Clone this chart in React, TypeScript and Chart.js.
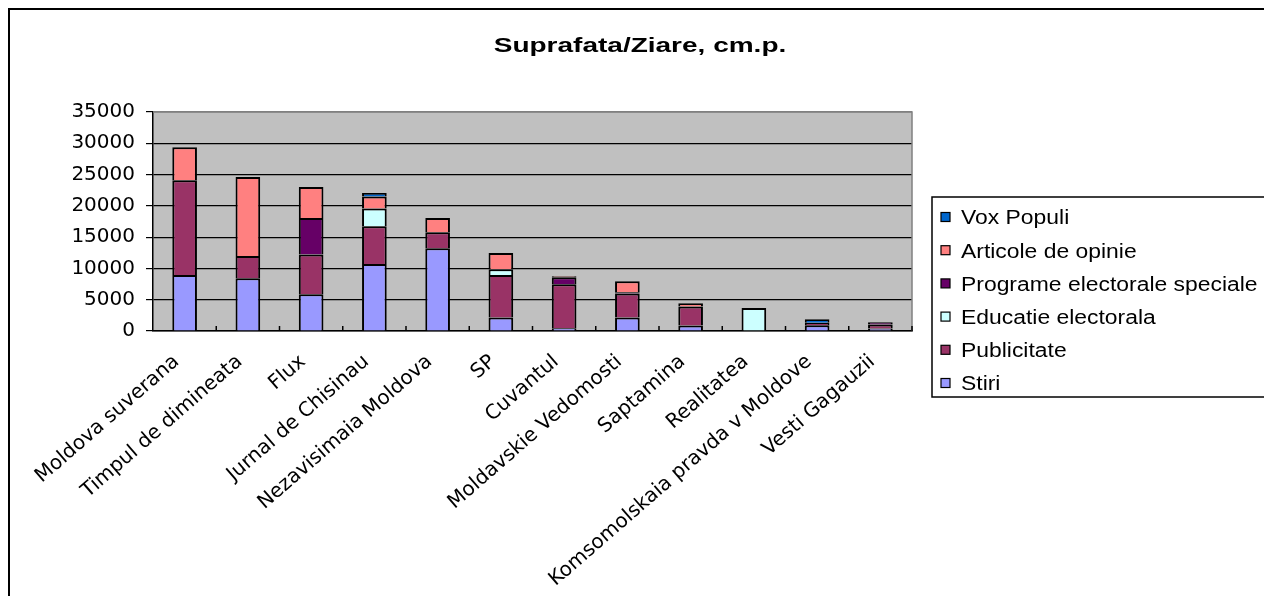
import React, { useEffect, useRef } from 'react';
import { Chart, registerables } from 'chart.js';

Chart.register(...registerables);

const chartTitle = 'Suprafata/Ziare, cm.p.';

const categories = [
  'Moldova suverana',
  'Timpul de dimineata',
  'Flux',
  'Jurnal de Chisinau',
  'Nezavisimaia Moldova',
  'SP',
  'Cuvantul',
  'Moldavskie Vedomosti',
  'Saptamina',
  'Realitatea',
  'Komsomolskaia pravda v Moldove',
  'Vesti Gagauzii',
];

const stiri = [8950, 8420, 5870, 10710, 13220, 2140, 430, 2140, 860, 0, 900, 380];
const publicitate = [15130, 3570, 6340, 6020, 2550, 6810, 7030, 3840, 3040, 0, 400, 640];
const educatieElectorala = [0, 0, 0, 2830, 0, 910, 0, 0, 0, 3680, 0, 0];
const programeElectoraleSpeciale = [0, 0, 5850, 0, 0, 0, 1150, 200, 0, 0, 0, 370];
const articoleDeOpinie = [5280, 12620, 4950, 1920, 2290, 2600, 130, 1760, 530, 0, 0, 0];
const voxPopuli = [0, 0, 0, 570, 0, 0, 0, 0, 0, 0, 590, 0];

const yTicks = [0, 5000, 10000, 15000, 20000, 25000, 30000, 35000];

const seriesNames = [
  'Stiri',
  'Publicitate',
  'Educatie electorala',
  'Programe electorale speciale',
  'Articole de opinie',
  'Vox Populi',
];
const seriesData = [stiri, publicitate, educatieElectorala, programeElectoraleSpeciale, articoleDeOpinie, voxPopuli];
const seriesColors = ['#9999FF', '#993366', '#CCFFFF', '#660066', '#FF8080', '#0066CC'];

export default function App() {
  const ref = useRef<HTMLCanvasElement>(null);

  useEffect(() => {
    const canvas = ref.current;
    if (!canvas) return;

    const bgPlugin = {
      id: 'bgPlugin',
      beforeDraw(chart: any) {
        const c = chart.ctx;
        const a = chart.chartArea;
        c.save();
        c.fillStyle = '#ffffff';
        c.fillRect(0, 0, chart.width, chart.height);
        c.strokeStyle = '#000000';
        c.lineWidth = 2;
        c.beginPath();
        c.moveTo(9, chart.height + 5);
        c.lineTo(9, 9);
        c.lineTo(chart.width + 5, 9);
        c.stroke();
        c.fillStyle = '#C0C0C0';
        c.fillRect(a.left, a.top, a.right - a.left, a.bottom - a.top);
        c.restore();
      },
      afterDraw(chart: any) {
        const c = chart.ctx;
        const a = chart.chartArea;
        c.save();
        // plot area border (top & right)
        c.strokeStyle = '#808080';
        c.lineWidth = 1.5;
        c.beginPath();
        c.moveTo(a.left, a.top);
        c.lineTo(a.right, a.top);
        c.lineTo(a.right, a.bottom);
        c.stroke();
        // inner tick marks on category axis
        c.strokeStyle = '#000000';
        c.lineWidth = 1.5;
        const n = categories.length;
        const w = (a.right - a.left) / n;
        c.beginPath();
        for (let i = 1; i <= n; i++) {
          const x = a.left + i * w;
          c.moveTo(x, a.bottom);
          c.lineTo(x, a.bottom - 5);
        }
        c.stroke();

        // title
        c.fillStyle = '#000000';
        c.font = 'bold 20px "Liberation Sans", Arial, sans-serif';
        c.textAlign = 'center';
        c.textBaseline = 'alphabetic';
        c.save();
        c.translate(640, 52);
        c.scale(1.4, 1);
        c.fillText(chartTitle, 0, 0);
        c.restore();

        // legend
        c.strokeStyle = '#000000';
        c.lineWidth = 1.5;
        c.strokeRect(932, 197, 400, 200);
        c.font = '20px "Liberation Sans", Arial, sans-serif';
        c.textAlign = 'left';
        for (let k = 0; k < seriesNames.length; k++) {
          const idx = seriesNames.length - 1 - k;
          const y = 217 + k * 33.2;
          c.fillStyle = seriesColors[idx];
          c.fillRect(941, y - 4.5, 9, 9);
          c.lineWidth = 1.2;
          c.strokeRect(941, y - 4.5, 9, 9);
          c.fillStyle = '#000000';
          c.save();
          c.translate(961, y + 7.3);
          c.scale(1.145, 1);
          c.fillText(seriesNames[idx], 0, 0);
          c.restore();
        }
        c.restore();
      },
    };

    const chart = new Chart(canvas, {
      type: 'bar',
      data: {
        labels: categories,
        datasets: seriesNames.map((name, i) => ({
          label: name,
          data: seriesData[i].map((v) => (v === 0 ? null : v)),
          backgroundColor: seriesColors[i],
          borderColor: '#000000',
          borderWidth: 2,
          borderSkipped: 'start',
          barPercentage: 0.39,
          categoryPercentage: 1,
        })),
      },
      options: {
        responsive: false,
        animation: false,
        layout: { padding: { left: 0, top: 112, right: 352, bottom: 0 } },
        plugins: {
          legend: { display: false },
          title: { display: false },
          tooltip: { enabled: false },
        },
        scales: {
          x: {
            stacked: true,
            grid: { display: false, drawTicks: false },
            border: { display: true, color: '#000000', width: 1.5 },
            ticks: {
              autoSkip: false,
              maxRotation: 41,
              minRotation: 41,
              padding: 19,
              labelOffset: -8,
              color: '#000000',
              font: { family: '"DejaVu Sans", sans-serif', size: 20 },
            },
            afterFit(scale: any) {
              scale.height = 265;
            },
          },
          y: {
            stacked: true,
            min: 0,
            max: 35000,
            afterBuildTicks(scale: any) {
              scale.ticks = yTicks.map((v) => ({ value: v }));
            },
            grid: {
              color: (ctx: any) => (ctx.tick && ctx.tick.value === 35000 ? '#808080' : '#000000'),
              lineWidth: 1.2,
              tickColor: '#000000',
              tickLength: 7,
            },
            border: { display: true, color: '#000000', width: 1.5 },
            ticks: {
              padding: 11,
              color: '#000000',
              font: { family: '"DejaVu Sans", sans-serif', size: 20 },
              callback: (v: any) => String(v),
            },
            afterFit(scale: any) {
              scale.width = 153;
            },
          },
        },
      },
      plugins: [bgPlugin],
    });

    return () => chart.destroy();
  }, []);

  return (
    <div style={{ position: 'absolute', left: 0, top: 0, width: 1264, height: 596 }}>
      <canvas ref={ref} width={1264} height={596} style={{ display: 'block' }} />
    </div>
  );
}
